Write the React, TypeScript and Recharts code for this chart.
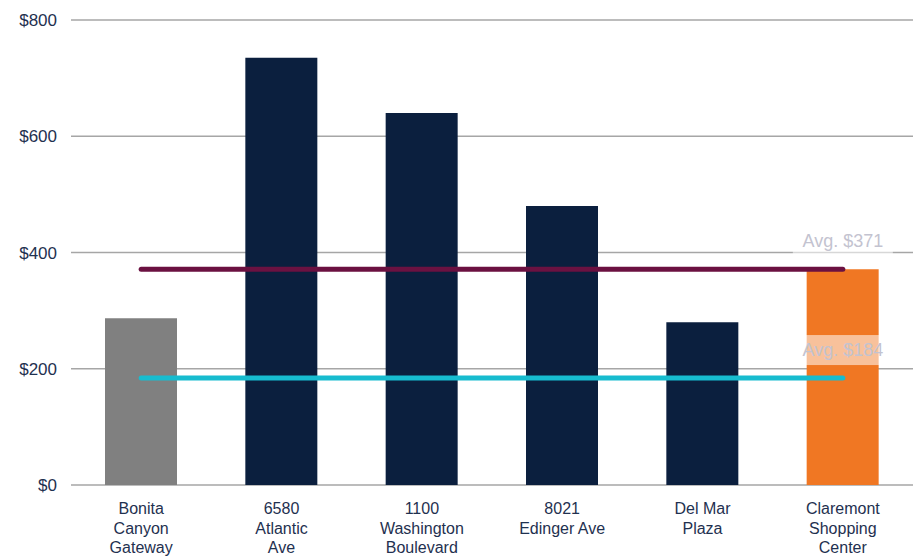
import React from 'react';
import { ComposedChart, Bar, Line, XAxis, YAxis, CartesianGrid, Cell } from 'recharts';

const categories = [
  'Bonita\nCanyon\nGateway',
  '6580\nAtlantic\nAve',
  '1100\nWashington\nBoulevard',
  '8021\nEdinger Ave',
  'Del Mar\nPlaza',
  'Claremont\nShopping\nCenter',
];
const rents = [287, 735, 640, 480, 280, 371];
const barColors = ['#808080', '#0b1f3e', '#0b1f3e', '#0b1f3e', '#0b1f3e', '#f07723'];
const avgHigh = 371;
const avgLow = 184;
const yTicks = [0, 200, 400, 600, 800];

const data = categories.map((name, i) => ({
  name,
  rent: rents[i],
  avgHigh,
  avgLow,
}));

const FONT = '"Liberation Sans", Arial, sans-serif';

function CategoryTick(props: any) {
  const { x, y, payload } = props;
  const lines = String(payload.value).split('\n');
  return (
    <text x={x} y={y} textAnchor="middle" fill="#1f3150" fontSize={16} fontFamily={FONT}>
      {lines.map((l, i) => (
        <tspan key={i} x={x} dy={i === 0 ? 21 : 19.5}>{l}</tspan>
      ))}
    </text>
  );
}

// label shown above the last point of an average line
function avgLabel(value: number) {
  return (props: any) => {
    const { x, y, index } = props;
    if (index !== categories.length - 1) return null;
    const cx = x;
    const cy = y - 28;
    return (
      <g>
        <rect x={cx - 50} y={cy - 15} width={100} height={30} fill="#ffffff" fillOpacity={0.55} />
        <text x={cx} y={cy} textAnchor="middle" dominantBaseline="central" fill="#c3c3d0" fontSize={18} fontFamily={FONT}>
          {`Avg. $${value}`}
        </text>
      </g>
    );
  };
}

export default function App() {
  return (
    <div style={{ position: 'absolute', left: 0, top: 0, width: 920, height: 558, background: '#fff' }}>
      <ComposedChart width={920} height={558} data={data} margin={{ top: 20, right: 7, left: 0, bottom: 0 }}>
        <CartesianGrid vertical={false} stroke="#a6a6a6" strokeWidth={1.5} />
        <XAxis
          dataKey="name"
          axisLine={false}
          tickLine={false}
          height={73}
          interval={0}
          tick={<CategoryTick />}
        />
        <YAxis
          domain={[0, 800]}
          ticks={yTicks}
          width={71}
          axisLine={false}
          tickLine={false}
          tickMargin={8}
          tickFormatter={(v) => `$${v}`}
          tick={{ fontSize: 17, fill: '#1f3150', fontFamily: FONT }}
        />
        <Bar dataKey="rent" barSize={72} isAnimationActive={false}>
          {data.map((d, i) => (
            <Cell key={d.name} fill={barColors[i]} />
          ))}
        </Bar>
        <Line
          dataKey="avgHigh"
          stroke="#6b1141"
          strokeWidth={5}
          strokeLinecap="round"
          dot={false}
          activeDot={false}
          isAnimationActive={false}
          label={avgLabel(avgHigh)}
        />
        <Line
          dataKey="avgLow"
          stroke="#17bccf"
          strokeWidth={5}
          strokeLinecap="round"
          dot={false}
          activeDot={false}
          isAnimationActive={false}
          label={avgLabel(avgLow)}
        />
      </ComposedChart>
    </div>
  );
}
